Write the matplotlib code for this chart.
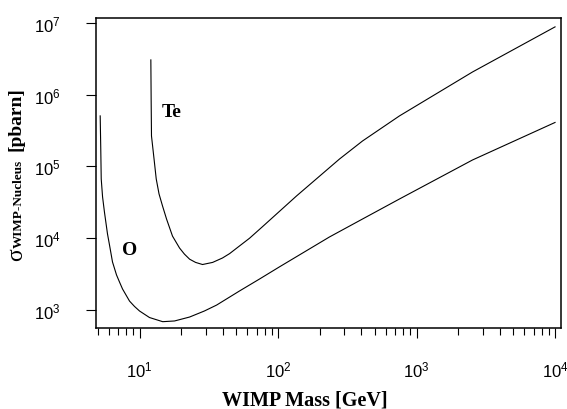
import numpy as np
import matplotlib
matplotlib.use('Agg')
import matplotlib.pyplot as plt
from matplotlib.ticker import LogLocator, NullLocator, FuncFormatter

# exclusion curves: WIMP mass [GeV] vs cross section [pbarn]
te_mass = [12.07, 12.13, 12.2, 12.73, 13.2, 13.83, 14.66, 15.67, 17.3, 19.45, 21.1,
           23.0, 25.4, 28.5, 33.7, 39.7, 44.7, 52.7, 62.3, 77.3, 136, 278, 407, 753, 2535, 10000]
te_sigma = [3.05e6, 8.7e5, 2.66e5, 1.27e5, 6.7e4, 4.14e4, 2.81e4, 1.85e4, 1.07e4, 7.3e3, 6.0e3,
            5.1e3, 4.6e3, 4.3e3, 4.6e3, 5.3e3, 6.1e3, 7.8e3, 1.0e4, 1.45e4, 3.88e4, 1.27e5, 2.26e5,
            5.06e5, 2.07e6, 8.8e6]

o_mass = [5.2, 5.25, 5.29, 5.41, 5.58, 5.87, 6.07, 6.38, 6.82, 7.17, 7.54, 8.47, 9.2, 10, 11.8,
          14.7, 17.9, 23, 29.4, 36, 52.7, 73.5, 102, 235, 407, 753, 2535, 10000]
o_sigma = [5.06e5, 1.75e5, 6.7e4, 3.76e4, 2.32e4, 1.15e4, 8.05e3, 4.67e3, 3.08e3, 2.45e3, 1.96e3,
           1.33e3, 1.12e3, 968, 785, 687, 703, 798, 968, 1.17e3, 1.84e3, 2.7e3, 3.97e3, 1.04e4,
           1.85e4, 3.52e4, 1.23e5, 4.1e5]

x_ticks = [1e1, 1e2, 1e3, 1e4]
y_ticks = [1e3, 1e4, 1e5, 1e6, 1e7]

plt.rcParams['font.family'] = 'Liberation Sans'
plt.rcParams['mathtext.fontset'] = 'custom'
plt.rcParams['mathtext.rm'] = 'Liberation Serif'
plt.rcParams['mathtext.bf'] = 'Liberation Serif:bold'

W, H = 567, 410
fig = plt.figure(figsize=(W / 100, H / 100), dpi=100)
ax = fig.add_axes([96 / W, 1 - 329 / H, 465 / W, 310 / H])

ax.plot(te_mass, te_sigma, color='black', lw=0.8)
ax.plot(o_mass, o_sigma, color='black', lw=0.8)

ax.set_xscale('log')
ax.set_yscale('log')
ax.set_xlim(4.85, 11040)
ax.set_ylim(561, 1.17e7)

pow10 = FuncFormatter(lambda v, pos: r'$\mathregular{10^{%d}}$' % round(np.log10(v)))
ax.set_xticks(x_ticks)
ax.set_yticks(y_ticks)
ax.xaxis.set_major_formatter(pow10)
ax.yaxis.set_major_formatter(pow10)
ax.xaxis.set_minor_locator(LogLocator(base=10, subs=np.arange(2, 10)))
ax.xaxis.set_minor_formatter(FuncFormatter(lambda v, pos: ''))
ax.yaxis.set_minor_locator(NullLocator())

ax.tick_params(axis='x', which='major', direction='out', length=7.5, width=0.8,
               labelsize=12, pad=15)
ax.tick_params(axis='x', which='minor', direction='out', length=5, width=0.8)
ax.tick_params(axis='y', which='major', direction='out', length=7.5, width=0.8,
               labelsize=12, pad=18)
for spine in ax.spines.values():
    spine.set_linewidth(1.1)

serif = dict(fontfamily='Liberation Serif', fontweight='bold')
ax.text(14.45, 5.1e5, 'Te', fontsize=14, ha='left', va='baseline', **serif)
ax.text(7.47, 6.0e3, 'O', fontsize=14, ha='left', va='baseline', **serif)

# axis titles
fig.text(305 / W, 4 / H, 'WIMP Mass [GeV]', fontsize=14.5, ha='center', va='baseline', **serif)
fig.text(22 / W, 1 - 261 / H, '\u03c3', fontsize=17, rotation=90, rotation_mode='anchor',
         ha='left', va='baseline', fontfamily='Liberation Serif')
fig.text(21.5 / W, 1 - 248 / H, 'WIMP-Nucleus', fontsize=9.5, rotation=90, rotation_mode='anchor',
         ha='left', va='baseline', **serif)
fig.text(20 / W, 1 - 151 / H, '[pbarn]', fontsize=14, rotation=90, rotation_mode='anchor',
         ha='left', va='baseline', **serif)

fig.savefig('out.png', dpi=100)
